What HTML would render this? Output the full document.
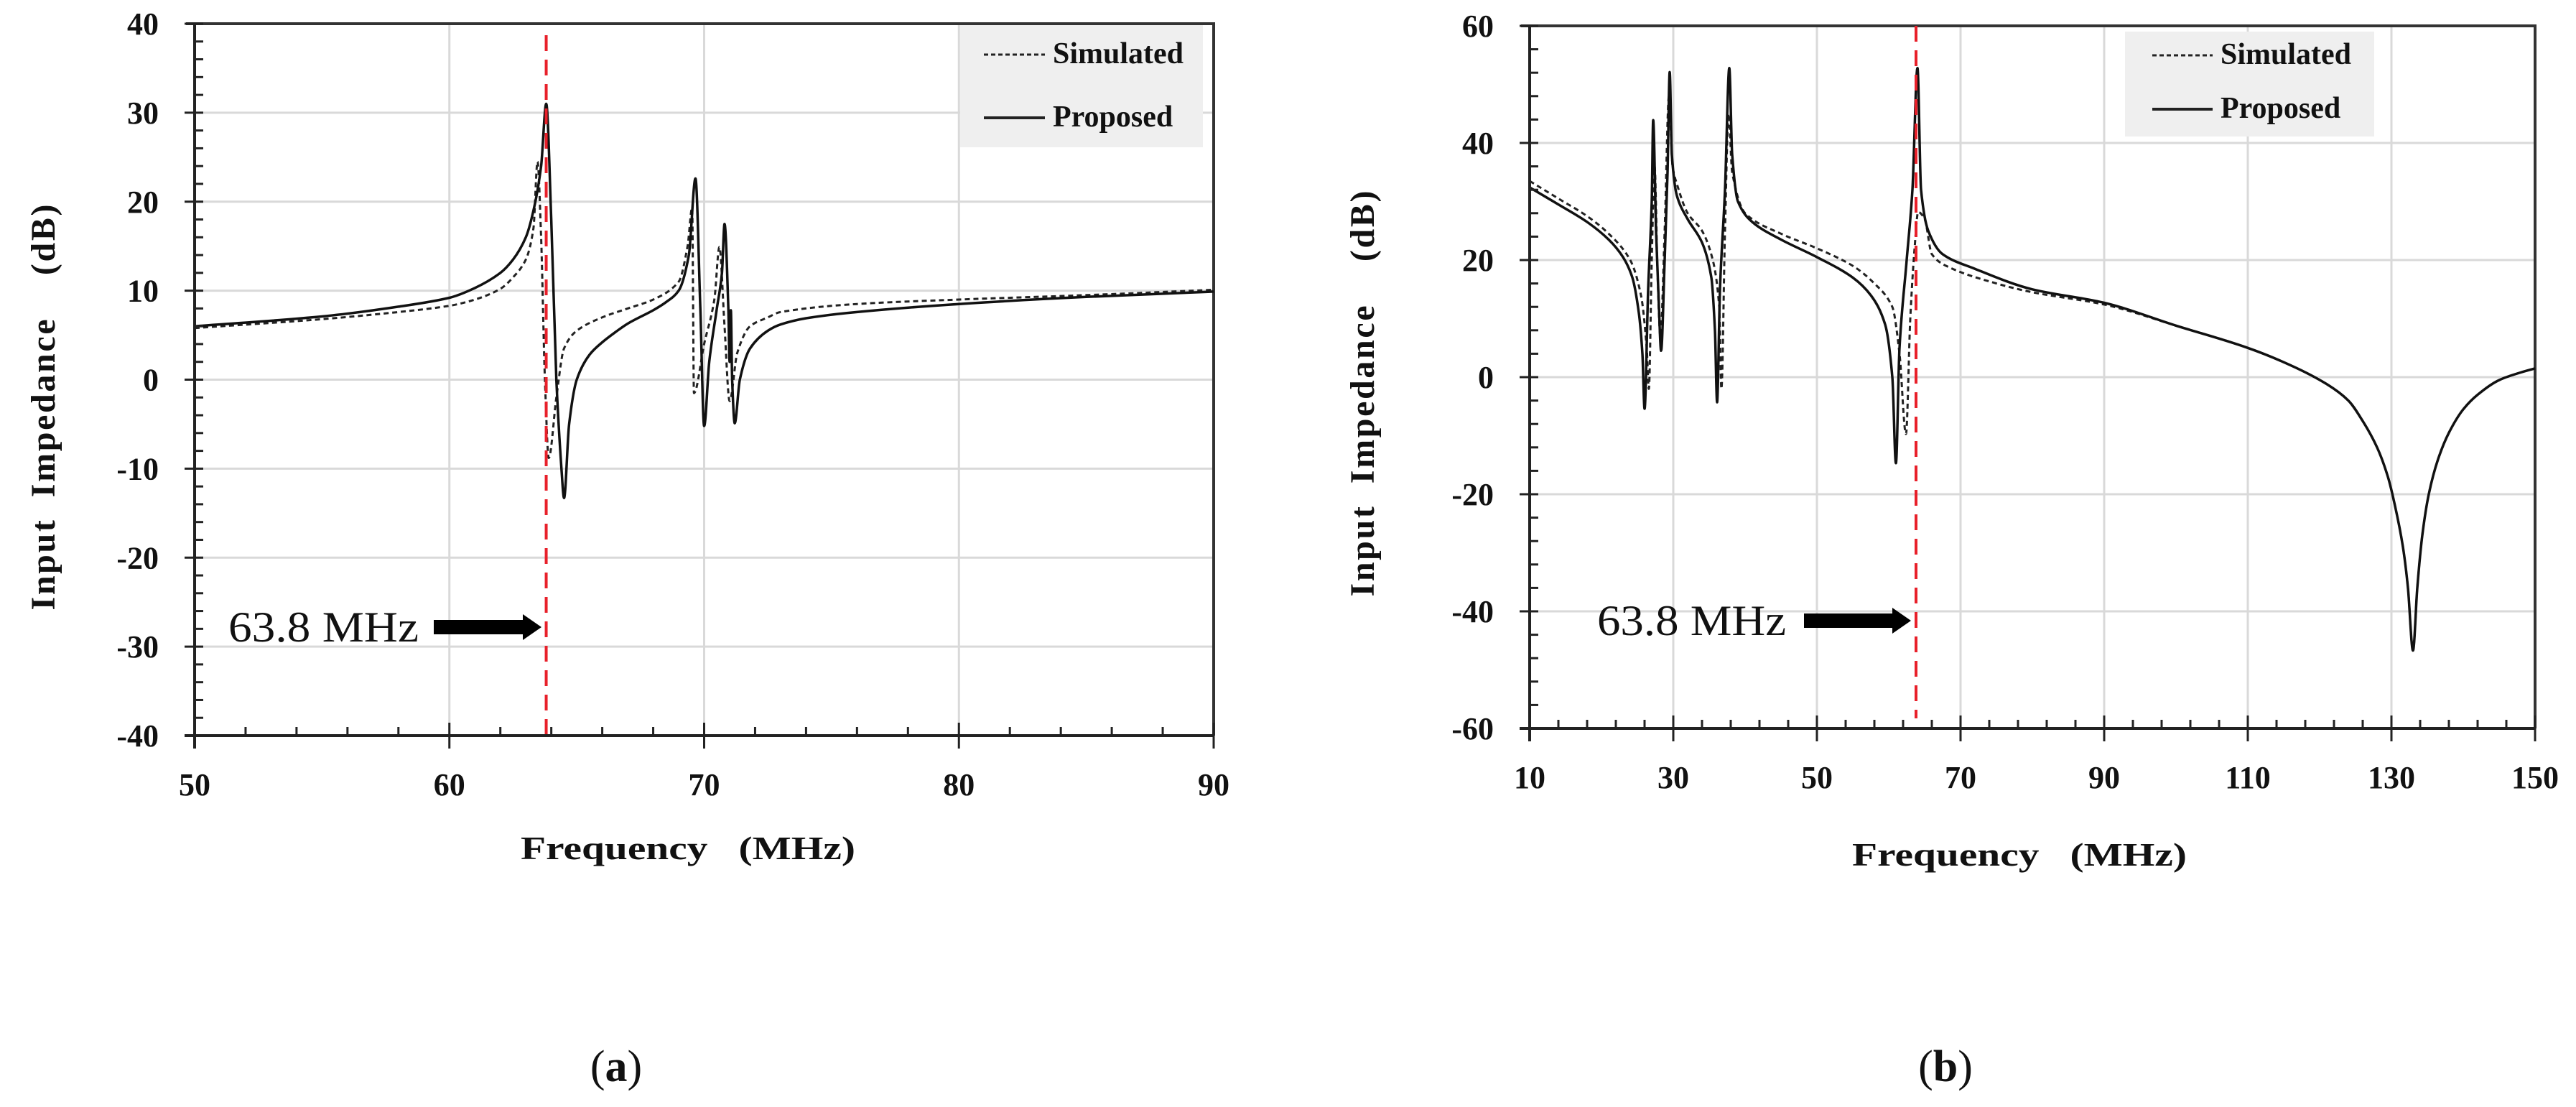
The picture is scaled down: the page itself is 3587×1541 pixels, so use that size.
<!DOCTYPE html>
<html><head><meta charset="utf-8"><style>
html,body{margin:0;padding:0;background:#fff;}
svg{display:block;}
text{font-family:"Liberation Serif",serif;font-weight:bold;fill:#111;}
</style></head>
<body>
<svg id="fig" width="3587" height="1541" viewBox="0 0 3587 1541" xmlns="http://www.w3.org/2000/svg"></svg>
<script>
// ---- Chart (a) data ----
const aXTicks = [50, 60, 70, 80, 90];
const aYTicks = [-40, -30, -20, -10, 0, 10, 20, 30, 40];
const aProposedX = [50,55,58,60,61,62,62.5,63,63.3,63.6,63.8,64.0,64.2,64.4,64.5,64.7,65,65.5,66,66.5,67,68,68.5,69,69.4,69.66,69.85,70.0,70.2,70.5,70.7,70.8,70.95,71.0,71.05,71.1,71.2,71.4,71.8,72.5,73,74,76,80,85,90];
const aProposedY = [6,7.1,8.2,9.2,10.3,12,13.5,16,19,24,31,18,0,-10,-13.3,-5,0,2.8,4.2,5.3,6.3,7.8,8.7,10,14,22.6,8,-5.2,2,8,12,17.5,8,2,7.8,0,-4.9,0,3.5,5.5,6.2,6.9,7.6,8.5,9.3,9.9];
const aSimX = [50,55,58,60,61,62,62.5,63,63.3,63.46,63.6,63.75,63.9,64.2,64.5,65,66,67,68,69,69.35,69.53,69.6,70,70.4,70.6,70.8,71.0,71.3,71.8,72.5,73,76,80,85,90];
const aSimY = [5.8,6.8,7.6,8.3,9,10.2,11.5,13.5,17,24.5,16,0,-8.8,-2,3.5,5.5,7,8,9,11,15,19.3,-1.5,4,9,14.9,6,-2.4,3,6,7,7.6,8.5,9,9.5,10.1];
const aMarker = [63.8];
// ---- Chart (b) data ----
const bXTicks = [10, 30, 50, 70, 90, 110, 130, 150];
const bYTicks = [-60, -40, -20, 0, 20, 40, 60];
const bProposedX = [10,14,18,21,23,24.3,25.2,25.7,26,26.5,27.0,27.2,27.6,28.0,28.3,28.8,29.2,29.5,29.8,30.5,32,34,35.3,35.8,36.1,36.5,37.2,37.8,38.2,39,41,45,50,55,57.5,59.5,60.5,61.0,61.5,62.5,63.3,64.0,64.5,65.5,67.5,72,80,90,100,110,116,121,124,126,128,129.5,130.5,131.6,132.3,133,133.6,134.3,135.2,136.5,138,140,142,145,148,150];
const bProposedY = [32.4,29.5,26.5,23.5,20.5,17,11,4,-5.4,15,30,43.9,25,12,4.5,20,35,52.1,38,31,27,23,17,8,-4.3,15,32,52.8,38,30,26.5,23.5,20.5,17,14,9,0,-14.7,5,20,32,52.8,32,25,21,18.5,15,12.7,8.8,5,2,-1.2,-4,-7.5,-12,-17,-22,-29,-36,-46.7,-36,-27,-20,-14,-9.5,-5.5,-3,-0.5,0.8,1.5];
const bSimX = [10,14,18,21,24,25.5,26.3,26.6,27,27.4,27.8,28.2,28.8,29.4,29.9,30.5,32,34,35.5,36.4,36.7,37.2,37.7,38.2,40,45,50,55,58,60.5,61.5,62.4,63,63.6,64.1,65,66,68,75,80,90,100,110,116,121,124,126,128,129.5,130.5,131.6,132.3,133,133.6,134.3,135.2,136.5,138,140,142,145,148,150];
const bSimY = [33.5,30.5,27.5,24.5,20,14,5,-2,20,36,18,7,25,48,36,33,28,25,20,12,-2,25,45,35,28,24.5,22,19,16,12,4,-9.7,10,22,28.2,27,21,19,16,14.5,12.4,8.8,5,2,-1.2,-4,-7.5,-12,-17,-22,-29,-36,-46.7,-36,-27,-20,-14,-9.5,-5.5,-3,-0.5,0.8,1.5];
const bMarker = [63.8];

const NS = "http://www.w3.org/2000/svg";
const svg = document.getElementById('fig');
function mk(tag, attrs, parent, txt) {
  const e = document.createElementNS(NS, tag);
  for (const k in attrs) e.setAttribute(k, attrs[k]);
  if (txt !== undefined) e.textContent = txt;
  (parent || svg).appendChild(e);
  return e;
}
// monotone cubic path through pixel points
function monoPath(P) {
  const n = P.length;
  if (n < 2) return '';
  const d = [], m = new Array(n);
  for (let i = 0; i < n - 1; i++) d.push((P[i+1][1] - P[i][1]) / (P[i+1][0] - P[i][0]));
  m[0] = d[0]; m[n-1] = d[n-2];
  for (let i = 1; i < n - 1; i++) {
    if (d[i-1] * d[i] <= 0) m[i] = 0;
    else m[i] = 2 / (1 / d[i-1] + 1 / d[i]);
  }
  let s = 'M' + P[0][0].toFixed(1) + ',' + P[0][1].toFixed(1);
  for (let i = 0; i < n - 1; i++) {
    const h = P[i+1][0] - P[i][0];
    const c1x = P[i][0] + h / 3, c1y = P[i][1] + m[i] * h / 3;
    const c2x = P[i+1][0] - h / 3, c2y = P[i+1][1] - m[i+1] * h / 3;
    s += ` C${c1x.toFixed(1)},${c1y.toFixed(1)} ${c2x.toFixed(1)},${c2y.toFixed(1)} ${P[i+1][0].toFixed(1)},${P[i+1][1].toFixed(1)}`;
  }
  return s;
}

function chart(cfg) {
  const g = mk('g', {});
  
  
  const L = cfg.L, R = cfg.R, T = cfg.T, B = cfg.B;
  const xs = v => L + (v - cfg.xmin) / (cfg.xmax - cfg.xmin) * (R - L);
  const ys = v => B - (v - cfg.ymin) / (cfg.ymax - cfg.ymin) * (B - T);
  cfg.yTicks.forEach(t => {
    if (t === cfg.ymin) return;
    const l = mk('line', {x1: L, x2: R, y1: ys(t), y2: ys(t), stroke: '#d9d9d9', 'stroke-width': 3}, g);
    
    
  });
  cfg.xTicks.forEach(t => {
    if (t === cfg.xmin) return;
    const l = mk('line', {x1: xs(t), x2: xs(t), y1: T, y2: B, stroke: '#d9d9d9', 'stroke-width': 3}, g);
    
    
  });
  const fr = mk('path', {d: `M${L-12},${T} L${R},${T} L${R},${B}`, fill: 'none', stroke: '#333', 'stroke-width': 4}, g);
  
  
  const lg = mk('g', {}, g);
  
  
  mk('rect', {x: cfg.lg.x, y: cfg.lg.y, width: cfg.lg.w, height: cfg.lg.h, fill: '#efefef'}, lg);
  const e1 = mk('line', {x1: cfg.lg.lx1, x2: cfg.lg.lx2, y1: cfg.lg.y1 - 12, y2: cfg.lg.y1 - 12, stroke: '#222', 'stroke-width': 3, 'stroke-dasharray': '6 4'}, lg);
  
  
  const t1 = mk('text', {x: cfg.lg.tx, y: cfg.lg.y1, 'font-size': 42}, lg, 'Simulated');
  
  
  const e2 = mk('line', {x1: cfg.lg.lx1, x2: cfg.lg.lx2, y1: cfg.lg.y2 - 12, y2: cfg.lg.y2 - 12, stroke: '#222', 'stroke-width': 4}, lg);
  
  
  const t2 = mk('text', {x: cfg.lg.tx, y: cfg.lg.y2, 'font-size': 42}, lg, 'Proposed');
  
  
  const pathOf = (X, Y) => monoPath(X.map((x, i) => [xs(x), ys(Y[i])]));
  const s1 = mk('path', {d: pathOf(cfg.simX, cfg.simY), fill: 'none', stroke: '#222', 'stroke-width': 3, 'stroke-dasharray': '7 5', 'stroke-linejoin': 'round'}, g);
  
  
  const s2 = mk('path', {d: pathOf(cfg.propX, cfg.propY), fill: 'none', stroke: '#111', 'stroke-width': 3.5, 'stroke-linejoin': 'round'}, g);
  
  
  const mx = xs(cfg.marker[0]);
  const ml = mk('line', {x1: mx, x2: mx, y1: cfg.mTop, y2: cfg.mBot, stroke: '#e8202a', 'stroke-width': 4, 'stroke-dasharray': '22 12'}, g);
  
  
  const ax = mk('line', {x1: L, x2: L, y1: T, y2: B + 18, stroke: '#222', 'stroke-width': 4}, g);
  
  
  const axx = mk('line', {x1: L - 14, x2: R, y1: B, y2: B, stroke: '#222', 'stroke-width': 4}, g);
  
  
  for (let v = cfg.ymin; v <= cfg.ymax + 1e-9; v += cfg.yMinor) {
    const major = cfg.yTicks.some(t => Math.abs(t - v) < 1e-6);
    mk('line', {x1: major ? L - 14 : L, x2: L + 12, y1: ys(v), y2: ys(v), stroke: '#222', 'stroke-width': 3}, g);
  }
  for (let v = cfg.xmin; v <= cfg.xmax + 1e-9; v += cfg.xMinor) {
    const major = cfg.xTicks.some(t => Math.abs(t - v) < 1e-6);
    mk('line', {x1: xs(v), x2: xs(v), y1: B - (major ? 18 : 12), y2: major ? B + 18 : B, stroke: '#222', 'stroke-width': 3}, g);
  }
  cfg.yTicks.forEach(t => {
    const tl = mk('text', {x: L - 50, y: ys(t) + 15, 'font-size': 44, 'text-anchor': 'end'}, g, String(t));
    
    
  });
  cfg.xTicks.forEach(t => {
    const tl = mk('text', {x: xs(t), y: cfg.xLabY, 'font-size': 44, 'text-anchor': 'middle'}, g, String(t));
    
    
  });
  const xt = mk('text', {x: cfg.xtX, y: cfg.xtY, 'font-size': 46, 'text-anchor': 'middle', textLength: 466, lengthAdjust: 'spacingAndGlyphs', style: 'white-space:pre'}, g, 'Frequency   (MHz)');
  
  
  const yt = mk('text', {x: 0, y: 0, 'font-size': 48, 'text-anchor': 'middle', textLength: 565, lengthAdjust: 'spacing', style: 'white-space:pre', transform: `translate(${cfg.ytX},${cfg.ytY}) rotate(-90)`}, g, 'Input  Impedance    (dB)');
  
  
  const an = mk('text', {x: cfg.an.tx, y: cfg.an.ty + 20, 'font-size': 60, style: 'font-weight:normal', textLength: cfg.an.tw, lengthAdjust: 'spacingAndGlyphs'}, g, '63.8 MHz');
  
  
  const a1 = cfg.an.ax1, a2 = cfg.an.ax2, ay = cfg.an.ty;
  const ar = mk('polygon', {points: `${a1},${ay-10} ${a2-26},${ay-10} ${a2-26},${ay-18} ${a2},${ay} ${a2-26},${ay+18} ${a2-26},${ay+10} ${a1},${ay+10}`, fill: '#000'}, g);
  
  
  const cp = mk('text', {x: cfg.capX, y: 1505, 'font-size': 62, 'text-anchor': 'middle', style: 'font-weight:normal'}, g);
  
  
  mk('tspan', {}, cp, '(');
  mk('tspan', {style: 'font-weight:bold'}, cp, cfg.cap);
  mk('tspan', {}, cp, ')');
}

chart({name: 'chart-a', L: 271, R: 1690, T: 33, B: 1024, xmin: 50, xmax: 90, ymin: -40, ymax: 40,
  xTicks: aXTicks, yTicks: aYTicks, xMinor: 2, yMinor: 2,
  propX: aProposedX, propY: aProposedY, simX: aSimX, simY: aSimY, marker: aMarker, mTop: 49, mBot: 1024,
  lg: {x: 1337, y: 35, w: 338, h: 170, lx1: 1370, lx2: 1455, tx: 1466, y1: 88, y2: 176},
  xLabY: 1107, xtX: 958, xtY: 1196, ytX: 76, ytY: 567,
  an: {tx: 318, ty: 873, tw: 265, ax1: 604, ax2: 754},
  capX: 858, cap: 'a'});

chart({name: 'chart-b', L: 2130, R: 3530, T: 36, B: 1014, xmin: 10, xmax: 150, ymin: -60, ymax: 60,
  xTicks: bXTicks, yTicks: bYTicks, xMinor: 4, yMinor: 4,
  propX: bProposedX, propY: bProposedY, simX: bSimX, simY: bSimY, marker: bMarker, mTop: 36, mBot: 1000,
  lg: {x: 2959, y: 44, w: 347, h: 146, lx1: 2997, lx2: 3081, tx: 3092, y1: 89, y2: 164},
  xLabY: 1097, xtX: 2812, xtY: 1205, ytX: 1913, ytY: 548,
  an: {tx: 2224, ty: 864, tw: 263, ax1: 2512, ax2: 2661},
  capX: 2709, cap: 'b'});
</script>
</body></html>
